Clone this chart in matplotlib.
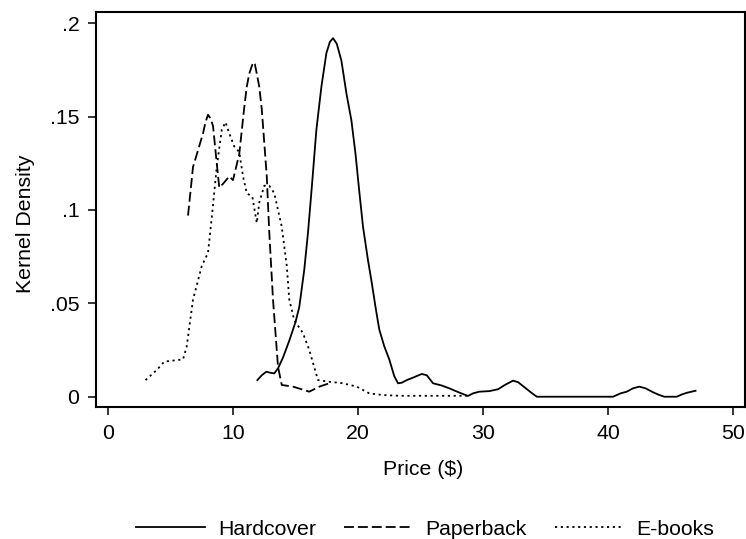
import matplotlib

matplotlib.use("Agg")
import matplotlib.pyplot as plt
from matplotlib.ticker import FixedLocator, FixedFormatter

plt.rcParams["font.family"] = ["Liberation Sans", "DejaVu Sans"]

# kernel density curves (price in $, density)
hard_x = [11.95, 12.3, 12.67, 13.0, 13.3, 13.6, 14.0, 14.5, 15.0, 15.3, 15.7, 16.0,
          16.3, 16.67, 17.07, 17.47, 17.75, 18.0, 18.3, 18.67, 19.07, 19.47, 19.8,
          20.1, 20.4, 20.8, 21.1, 21.4, 21.7, 22.1, 22.5, 22.9, 23.2, 23.5, 23.9,
          24.5, 25.1, 25.5, 26.0, 26.7, 27.3, 28.0, 28.8, 29.2, 29.7, 30.5, 31.2,
          31.8, 32.4, 32.8, 33.2, 33.8, 34.3, 40.4, 41.0, 41.5, 42.0, 42.5, 43.0,
          43.6, 44.0, 44.5, 45.5, 45.9, 46.3, 47.0]
hard_y = [0.0089, 0.0115, 0.0134, 0.0128, 0.0125, 0.0152, 0.021, 0.030, 0.040, 0.048,
          0.068, 0.088, 0.112, 0.143, 0.166, 0.184, 0.190, 0.192, 0.189, 0.180,
          0.1625, 0.148, 0.130, 0.110, 0.091, 0.073, 0.061, 0.048, 0.036, 0.027,
          0.020, 0.011, 0.0072, 0.0075, 0.0089, 0.0105, 0.0122, 0.0115, 0.0072,
          0.006, 0.0045, 0.0025, 0.0004, 0.0018, 0.0027, 0.003, 0.0040, 0.0065,
          0.0086, 0.0078, 0.0057, 0.0025, 0.0, 0.0, 0.0018, 0.0027, 0.0045, 0.0054,
          0.0045, 0.0024, 0.0012, 0.0, 0.0, 0.0012, 0.0021, 0.0032]

paper_x = [6.4, 6.8, 7.2, 7.6, 7.8, 8.0, 8.2, 8.4, 8.67, 8.9, 9.2, 9.7, 10.0, 10.5,
           10.9, 11.1, 11.3, 11.6, 11.75, 11.9, 12.1, 12.3, 12.7, 12.9, 13.2, 13.6,
           13.9, 14.8, 16.1, 16.9, 17.7]
paper_y = [0.097, 0.123, 0.132, 0.141, 0.147, 0.151, 0.149, 0.145, 0.127, 0.112,
           0.114, 0.118, 0.116, 0.130, 0.155, 0.166, 0.173, 0.179, 0.178, 0.173,
           0.166, 0.154, 0.118, 0.088, 0.052, 0.016, 0.0063, 0.0054, 0.0027, 0.0054,
           0.0072]

ebook_x = [3.0, 3.9, 4.5, 6.0, 6.3, 6.8, 7.5, 8.0, 8.3, 8.7, 9.1, 9.4, 9.7, 10.1,
           10.5, 10.8, 11.1, 11.55, 11.9, 12.1, 12.5, 12.9, 13.3, 13.9, 14.3, 14.5,
           14.9, 15.6, 16.1, 16.8, 17.7, 18.8, 19.9, 20.9, 22.0, 23.3, 28.8]
ebook_y = [0.0089, 0.0143, 0.0188, 0.020, 0.027, 0.052, 0.070, 0.077, 0.096, 0.123,
           0.143, 0.147, 0.141, 0.134, 0.131, 0.118, 0.109, 0.107, 0.093, 0.104,
           0.113, 0.113, 0.109, 0.091, 0.070, 0.052, 0.041, 0.034, 0.025, 0.0089,
           0.0080, 0.0072, 0.0054, 0.0018, 0.0009, 0.0005, 0.0005]

x_ticks = [0, 10, 20, 30, 40, 50]
y_ticks = [0, 0.05, 0.1, 0.15, 0.2]
y_tick_labels = ["0", ".05", ".1", ".15", ".2"]

fs = 15.3

fig = plt.figure(figsize=(7.46, 5.39), dpi=100)
ax = fig.add_axes([0.1287, 0.2449, 0.8700, 0.7328])

lw = 1.3
ax.plot(hard_x, hard_y, color="black", lw=lw, label="Hardcover")
ax.plot(paper_x, paper_y, color="black", lw=lw, dashes=(5.5, 2.2), label="Paperback")
ax.plot(ebook_x, ebook_y, color="black", lw=lw, dashes=(1.2, 2.0), label="E-books")

ax.set_xlim(-0.96, 50.96)
ax.set_ylim(-0.0055, 0.206)
ax.xaxis.set_major_locator(FixedLocator(x_ticks))
ax.yaxis.set_major_locator(FixedLocator(y_ticks))
ax.yaxis.set_major_formatter(FixedFormatter(y_tick_labels))
ax.tick_params(direction="out", length=5.5, width=1.1, labelsize=fs, pad=6.5)
for s in ax.spines.values():
    s.set_linewidth(1.5)

ax.set_xlabel("Price ($)", fontsize=fs)
ax.set_ylabel("Kernel Density", fontsize=fs)
ax.xaxis.set_label_coords(0.504, -0.134)
ax.yaxis.set_label_coords(-0.094, 0.463)

fig.legend(loc="center", bbox_to_anchor=(0.570, 0.018), ncol=3, frameon=False,
           fontsize=fs, handlelength=3.25, columnspacing=1.3, handletextpad=0.6)

fig.savefig("out.png", dpi=100)
